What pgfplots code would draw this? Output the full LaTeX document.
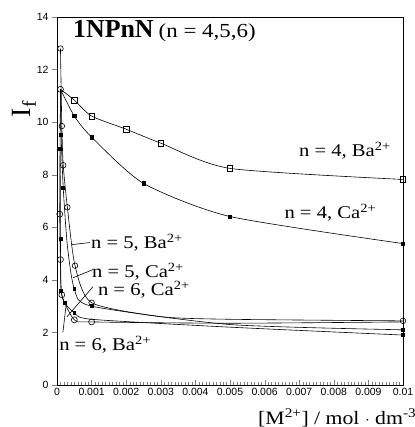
\documentclass[border=0pt]{standalone}
\usepackage{fontspec}
\setmainfont{Liberation Serif}
\setsansfont{Liberation Sans}
\newfontfamily\lbl[FakeStretch=1.15]{Liberation Serif}
\usepackage{pgfplots}
\pgfplotsset{compat=1.18}
\begin{document}
\begin{tikzpicture}
\path[use as bounding box] (-57bp,-42bp) rectangle (358bp,385bp);
\begin{axis}[at={(0,0)},anchor=south west, scale only axis, width=346bp, height=368bp,
 xmin=0,xmax=0.01,ymin=0,ymax=14,
 xtick={0,0.001,0.002,0.003,0.004,0.005,0.006,0.007,0.008,0.009,0.01},
 xticklabels={0,0.001,0.002,0.003,0.004,0.005,0.006,0.007,0.008,0.009,0.01},
 minor x tick num=9,
 ytick={0,2,4,6,8,10,12,14},
 tick label style={font=\sffamily\fontsize{10.5}{12}\selectfont},
 /pgf/number format/assume math mode=true,
 xtick pos=bottom, ytick pos=left,
 xtick align=inside, ytick align=outside,
 major tick length=5bp, minor tick length=2.5bp,
 scaled x ticks=false,
 axis line style={line width=0.6pt},
 clip=false,
 ylabel={\fontsize{28}{30}\selectfont I\textsubscript{f}},
 ylabel style={at={(axis description cs:-0.095,0.75)},anchor=center},
 every axis plot/.append style={black, line width=0.6pt, smooth, tension=0.4},
]
% n=4, Ba2+
\addplot[mark=square, mark size=2.8pt, mark options={fill=white,line width=0.6pt}, mark indices={2,3,4,5,6,7}] coordinates {
(0.0001,11.25)(0.0005,10.84)(0.001,10.23)(0.002,9.73)(0.003,9.2)(0.005,8.24)(0.01,7.82)};
% n=4, Ca2+
\addplot[mark=square*, mark size=1.7pt, mark indices={2,3,4,5,6}] coordinates {
(0.0001,11.25)(0.0005,10.23)(0.001,9.43)(0.0025,7.67)(0.005,6.41)(0.01,5.38)};
% n=5, Ba2+
\addplot[mark=o, mark size=2.8pt, mark options={fill=white}, mark indices={1,2,3,4,5,6,9}] coordinates {
(0.0001,12.8)(0.00014,9.85)(0.00018,8.36)(0.0003,6.76)(0.00052,4.54)(0.001,3.13)(0.003,2.6)(0.005,2.5)(0.01,2.44)};
% n=5, Ca2+
\addplot[mark=square*, mark size=1.5pt, mark indices={2,3,5,6,8}] coordinates {
(0.0001,11.25)(0.00012,9.5)(0.00018,7.5)(0.0003,5.3)(0.0005,3.66)(0.001,3.0)(0.005,2.3)(0.01,2.1)};
% n=6, Ca2+
\addplot[mark=square*, mark size=1.5pt, mark indices={1,2,3,4,5,8}] coordinates {
(0.00009,9.0)(0.0001,5.55)(0.00012,3.6)(0.00022,3.13)(0.0005,2.75)(0.001,2.5)(0.005,2.2)(0.01,1.9)};
% n=6, Ba2+
\addplot[mark=o, mark size=3pt, mark options={fill=white}, mark indices={1,2,3,4,5,6}] coordinates {
(0.0001,11.25)(0.00008,6.5)(0.0001,4.77)(0.00014,3.43)(0.0005,2.48)(0.001,2.4)(0.005,2.35)(0.01,2.4)};

\node[anchor=west, inner sep=0pt] at (axis cs:0.00046,13.45)
 {{\fontsize{26}{28}\selectfont\bfseries 1NPnN}\hspace{5bp}{\lbl\fontsize{20}{22}\selectfont (n = 4,5,6)}};
\begin{scope}[every node/.style={font=\lbl\fontsize{18}{20}\selectfont, inner sep=0pt}]
\node at (axis cs:0.00832,8.9) {n = 4, Ba\textsuperscript{2+}};
\node at (axis cs:0.0079,6.56) {n = 4, Ca\textsuperscript{2+}};
\node at (axis cs:0.00231,5.42) {n = 5, Ba\textsuperscript{2+}};
\node at (axis cs:0.00234,4.31) {n = 5, Ca\textsuperscript{2+}};
\node at (axis cs:0.00251,3.63) {n = 6, Ca\textsuperscript{2+}};
\node at (axis cs:0.00139,1.53) {n = 6, Ba\textsuperscript{2+}};
\end{scope}
\draw[line width=0.6pt] (axis cs:0.00095,5.42) -- (axis cs:0.00043,5.34);
\draw[line width=0.6pt] (axis cs:0.00104,4.39) -- (axis cs:0.00046,4.08);
\draw[line width=0.6pt] (axis cs:0.00104,3.74) -- (axis cs:0.00029,2.6);
\draw[line width=0.6pt] (axis cs:0.00017,2.0) -- (axis cs:0.00026,3.0);
\end{axis}
\node[anchor=base west, font=\lbl\fontsize{19}{21}\selectfont, inner sep=0pt] at (201bp,-39bp)
 {[M\textsuperscript{2+}] / mol $\cdot$ dm\textsuperscript{-3}};
\end{tikzpicture}
\end{document}
